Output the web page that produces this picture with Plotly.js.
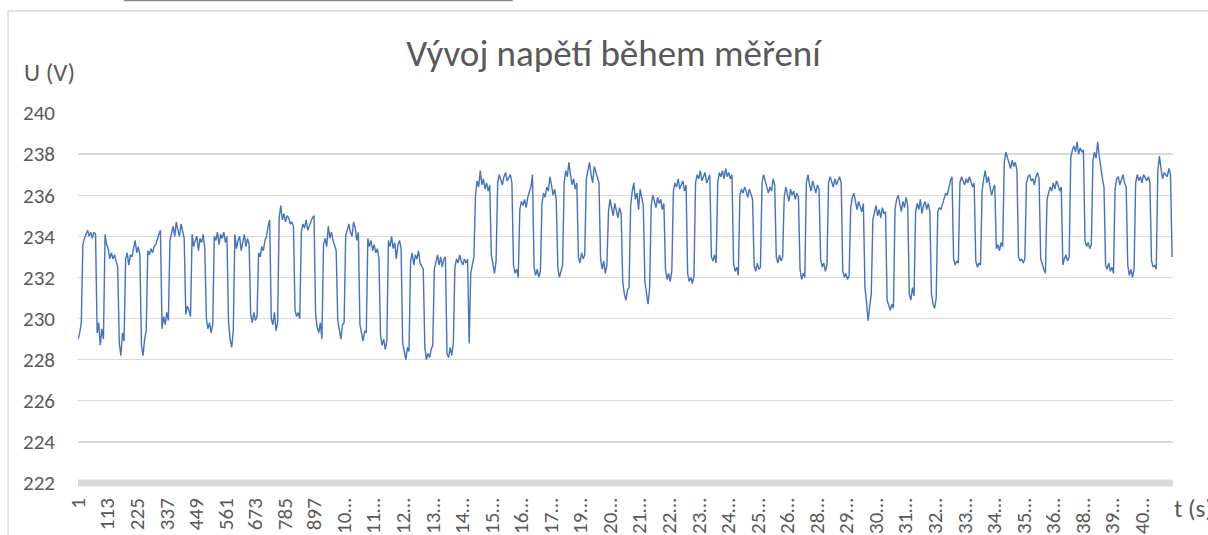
<!DOCTYPE html>
<html>
<head>
<meta charset="utf-8">
<script src="https://cdn.plot.ly/plotly-3.0.1.min.js"></script>
<style>
  html, body { margin: 0; padding: 0; background: #ffffff; overflow: hidden; }
  #chart { width: 1208px; height: 535px; }
</style>
</head>
<body>
<div id="chart"></div>
<script>
const sampleStep = 6;
const voltage = [
  229.0, 229.3, 229.8,
  233.6, 233.9, 234.1, 234.3, 234.0, 234.2, 233.9, 234.2, 234.1,
  229.3, 229.8, 228.7, 229.5, 229.0,
  234.1, 233.6, 233.4, 232.9, 233.2, 232.9, 233.1, 232.8, 232.5,
  228.8, 228.2, 229.3, 228.9,
  232.9, 233.2, 232.6, 233.1, 233.0, 233.4, 233.8, 233.2, 233.5, 233.1,
  228.7, 228.2, 229.0, 229.4,
  233.3, 233.1, 233.4, 233.2, 233.5, 233.6, 233.9, 234.1, 234.3,
  229.5, 230.1, 229.7, 230.3, 229.9,
  233.8, 234.2, 234.5, 234.0, 234.7, 234.3, 234.0, 234.6, 234.2, 233.9,
  230.2, 230.6, 230.4, 230.1,
  234.1, 233.5, 233.8, 234.0, 233.3, 233.9, 233.7, 234.1, 233.4,
  230.0, 229.5, 229.8, 229.3, 229.7,
  234.0, 233.8, 234.2, 233.6, 234.1, 233.9, 234.2, 233.7, 234.0,
  229.8, 229.0, 228.6, 229.4,
  234.1, 233.4, 233.8, 234.0, 233.3, 233.7, 234.1, 233.5, 233.9, 233.6,
  230.2, 229.8, 230.3, 229.9, 230.1,
  233.2, 233.0, 233.5, 233.3, 233.8, 234.0, 234.5, 234.8,
  230.0, 229.7, 230.3, 229.4, 229.8,
  234.9, 235.5, 234.8, 235.1, 234.7, 235.0, 234.9, 234.6, 234.7, 234.5,
  230.4, 230.1, 230.3, 230.0,
  234.2, 234.6, 234.4, 234.8, 234.3, 234.5, 234.7, 234.9, 235.0,
  230.2, 229.6, 229.3, 229.8, 229.0,
  233.6, 233.9, 233.5, 234.5, 233.9, 234.2, 233.8, 233.5, 233.3,
  229.9, 229.5, 229.0, 229.7, 229.8,
  234.0, 234.3, 234.6, 234.2, 234.0, 234.7, 234.4, 233.8, 234.2,
  229.7, 229.2, 228.9, 229.4, 229.3,
  233.9, 233.5, 233.8, 233.3, 233.6, 233.2, 233.4, 232.9,
  229.2, 228.7, 229.0, 228.5, 228.9,
  233.8, 233.5, 234.0, 233.4, 233.7, 232.9, 233.6, 233.8, 233.4,
  228.8, 228.3, 228.0, 228.6, 228.4,
  232.8, 233.2, 232.6, 233.1, 232.9, 233.3, 232.7, 232.5, 232.4,
  228.6, 228.0, 228.3, 228.1, 228.5, 228.7,
  232.4, 232.8, 233.1, 232.6, 233.0, 232.5, 232.9, 233.0,
  228.3, 228.1, 228.6, 228.2, 228.8,
  232.5, 232.9, 232.7, 233.1, 232.8, 232.6, 232.9, 232.7, 232.9,
  228.8,
  232.2, 232.6, 233.0,
  236.0, 236.7, 236.4, 237.2, 236.5, 236.8, 236.3, 236.6, 236.2, 236.5,
  233.1, 232.6, 232.2, 232.8,
  236.6, 237.0, 236.8, 236.5, 236.9, 237.1, 236.7, 236.9, 237.0, 236.6,
  232.6, 232.2, 232.4, 232.0,
  235.3, 235.7, 235.5, 235.8, 235.4, 235.9, 236.1, 236.4, 237.0,
  232.5, 232.1, 232.4, 232.0, 232.3,
  235.6, 236.1, 235.9, 236.4, 236.2, 236.9, 236.5, 236.0, 236.3, 235.8,
  232.5, 232.0, 232.3, 232.6,
  236.6, 237.2, 236.9, 237.6, 237.0, 236.5, 236.8, 236.3, 236.6,
  233.0, 232.7, 233.2, 232.9, 233.1,
  236.8, 237.3, 237.6, 237.0, 236.6, 237.4, 237.1, 236.8, 236.6,
  232.9, 232.4, 232.8, 232.2, 232.6,
  235.2, 235.8, 235.4, 235.0, 235.6, 235.3, 234.9, 235.4, 235.1,
  231.8, 231.2, 230.9, 231.4, 231.5,
  235.5, 236.2, 236.6, 235.8, 236.1, 235.3, 236.3, 235.9, 235.5,
  231.8, 231.3, 230.7, 231.5,
  235.5, 236.0, 235.7, 235.4, 235.9, 235.6, 235.8, 235.3, 235.6,
  232.4, 231.9, 232.2, 231.8, 232.3,
  236.2, 236.6, 236.4, 236.8, 236.3, 236.5, 236.7, 236.2, 236.5,
  232.2, 231.8, 232.0, 231.7, 232.1,
  236.6, 237.0, 236.8, 237.2, 236.7, 236.9, 237.1, 236.6, 236.8, 237.0,
  233.0, 232.8, 233.1, 232.7,
  236.6, 237.1, 236.9, 237.2, 236.8, 237.3, 236.9, 237.1, 236.8, 237.0,
  232.7, 232.3, 232.5, 232.1,
  236.0, 236.3, 236.1, 236.4, 236.2, 235.9, 236.3, 236.0, 235.8,
  232.6, 232.3, 232.7, 232.4, 232.5,
  236.6, 237.0, 236.7, 236.3, 236.1, 236.4, 236.2, 236.8, 236.5,
  233.0, 232.7, 233.1, 232.8, 233.0,
  235.9, 236.4, 236.1, 235.7, 236.3, 236.0, 236.2, 235.8, 236.1, 235.9,
  232.4, 231.9, 232.2, 232.0,
  236.6, 237.0, 236.5, 236.2, 236.7, 236.4, 236.1, 236.5, 236.3,
  232.9, 232.5, 232.7, 232.3, 232.6,
  236.6, 236.9, 236.7, 236.4, 236.8, 236.5, 236.7, 236.9, 236.6,
  232.3, 232.0, 232.2, 231.9, 232.1,
  235.4, 235.9, 236.1, 235.6, 235.3, 235.7, 235.5, 235.2, 235.6,
  231.5, 230.8, 229.9, 230.6, 231.2,
  234.8, 235.2, 235.5, 235.0, 235.3, 234.9, 235.4, 235.1, 235.2,
  230.9, 230.6, 230.4, 230.7, 230.5,
  235.3, 235.8, 236.0, 235.5, 235.2, 235.7, 235.4, 235.9, 235.5,
  231.2, 230.9, 231.5, 231.1,
  235.2, 235.6, 235.3, 235.8, 235.1, 235.5, 235.7, 235.3, 235.6, 235.2,
  231.2, 230.7, 230.5, 231.0,
  235.2, 235.4, 235.3, 235.6, 235.8, 236.1, 236.0, 236.4, 236.7, 236.9,
  232.9, 232.6, 232.8, 232.7,
  236.6, 236.9, 236.7, 236.5, 236.8, 236.6, 236.9, 236.7, 236.4, 236.6,
  232.8, 232.5, 232.7, 232.6,
  236.2, 236.8, 237.2, 236.6, 236.9, 236.4, 236.0, 236.3, 236.5,
  233.4, 233.6, 233.3, 233.7, 233.5,
  237.6, 238.1, 237.8, 237.5, 237.3, 237.7, 237.4, 237.6, 237.2,
  233.0, 232.8, 232.9, 232.7, 232.9,
  236.6, 236.9, 237.0, 236.7, 236.8, 236.5, 236.9, 237.1, 236.8,
  232.9, 232.6, 232.4, 232.2,
  235.8, 236.1, 236.4, 236.2, 236.6, 236.3, 236.7, 236.5, 236.2, 236.4,
  232.6, 232.9, 233.1, 232.8, 233.0,
  237.8, 238.2, 238.4, 238.1, 238.6, 238.0, 238.3, 238.1, 238.2,
  233.8, 233.5, 233.7, 233.4, 233.6,
  237.7, 238.1, 237.8, 238.6, 237.9, 237.2, 236.8, 236.4,
  232.6, 232.4, 232.7, 232.3, 232.5, 232.2,
  236.3, 236.8, 236.9, 236.5, 236.7, 237.0, 236.6, 236.4,
  232.6, 232.1, 232.4, 232.0, 232.4,
  236.6, 237.0, 236.7, 236.9, 236.6, 237.0, 236.8, 236.7, 236.9, 236.6,
  232.8, 232.5, 232.6, 232.4,
  237.2, 237.9, 237.3, 236.8, 237.1, 237.0, 236.9, 237.3, 237.0,
  233.0
];
const time = voltage.map((_, i) => 1 + sampleStep * i);

// Category tick labels as shown on the x axis
const tickPositions = [1, 113, 225, 337, 449, 561, 673, 785, 897, 1009, 1121, 1233, 1345,
  1457, 1569, 1681, 1793, 1905, 2017, 2129, 2241, 2353, 2465, 2577, 2689, 2801, 2913,
  3025, 3137, 3249, 3361, 3473, 3585, 3697, 3809, 3921, 4033];
const tickLabels = ["1", "113", "225", "337", "449", "561", "673", "785", "897",
  "10…", "11…", "12…", "13…", "14…", "15…", "16…", "17…", "19…", "20…", "21…",
  "22…", "23…", "24…", "25…", "26…", "28…", "29…", "30…", "31…", "32…", "33…",
  "34…", "35…", "36…", "38…", "39…", "40…"];

const chartTitle = "Vývoj napětí během měření";
const yLabel = "U (V)";
const xLabel = "t (s)";

const FONT = "Carlito, Calibri, Lato, sans-serif";
const TXT = "#595959";
const GRID = "#d9d9d9";

const trace = {
  x: time,
  y: voltage,
  type: "scatter",
  mode: "lines",
  line: { color: "#4472C4", width: 1.4 },
  hoverinfo: "skip"
};

const layout = {
  width: 1208,
  height: 535,
  margin: { l: 78, r: 35, t: 113, b: 52, pad: 0 },
  paper_bgcolor: "#ffffff",
  plot_bgcolor: "#ffffff",
  showlegend: false,
  font: { family: FONT, color: TXT, size: 21 },
  title: {
    text: chartTitle,
    font: { family: FONT, size: 37, color: TXT },
    xref: "paper", x: 0.489, xanchor: "center",
    yref: "container", y: 0.9, yanchor: "middle"
  },
  xaxis: {
    type: "linear",
    range: [0.5, 4150.5],
    tickmode: "array",
    tickvals: tickPositions,
    ticktext: tickLabels,
    tickangle: -90,
    ticks: "",
    ticklabelstandoff: 10,
    showgrid: false,
    zeroline: false,
    showline: false,
    tickfont: { family: FONT, size: 21, color: TXT },
    fixedrange: true
  },
  yaxis: {
    range: [222, 240],
    dtick: 2,
    tick0: 222,
    ticks: "",
    ticklabelstandoff: 22,
    showgrid: true,
    gridcolor: GRID,
    gridwidth: 1.3,
    zeroline: false,
    showline: false,
    tickfont: { family: FONT, size: 21, color: TXT },
    fixedrange: true
  },
  shapes: [
    // thick category-axis line at the bottom (paper-referenced so it is not clipped)
    { type: "line", xref: "paper", yref: "paper", x0: 0, x1: 1, y0: 0, y1: 0,
      line: { color: GRID, width: 7 }, layer: "below" },
    // chart-area border
    { type: "rect", xref: "paper", yref: "paper", x0: -0.0639, x1: 1.2, y0: -0.5, y1: 1.2757,
      line: { color: GRID, width: 1.3 }, fillcolor: "rgba(0,0,0,0)", layer: "below" },
    // underline fragment at top of the screenshot
    { type: "line", xref: "paper", yref: "paper", x0: 0.042, x1: 0.397, y0: 1.3039, y1: 1.3039,
      line: { color: "#8a8a8a", width: 1.5 } }
  ],
  annotations: [
    { text: yLabel, xref: "paper", yref: "paper", x: -0.0256, y: 1.1108,
      xanchor: "center", yanchor: "middle", showarrow: false,
      font: { family: FONT, size: 25, color: TXT } },
    { text: xLabel, xref: "paper", yref: "paper", x: 0.9991, y: -0.0676,
      xanchor: "left", yanchor: "middle", showarrow: false,
      font: { family: FONT, size: 25, color: TXT } }
  ]
};

Plotly.newPlot("chart", [trace], layout, { staticPlot: true, displayModeBar: false });
</script>
</body>
</html>
